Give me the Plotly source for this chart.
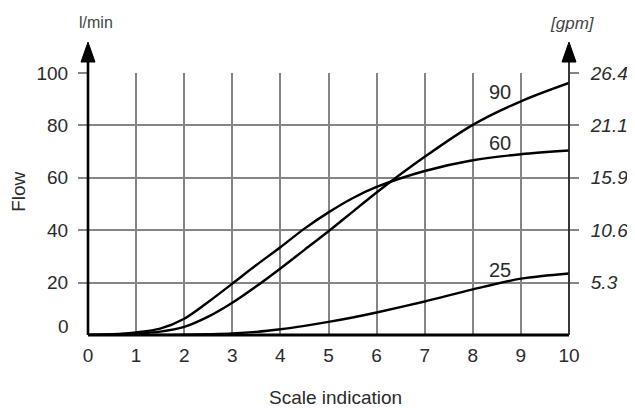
import plotly.graph_objects as go

scale = [0, 0.5, 1, 1.5, 2, 2.5, 3, 3.5, 4, 4.5, 5, 5.5, 6, 7, 8, 9, 10]
flow_90 = [0, 0.2, 0.6, 1.3, 3.1, 7.0, 12.3, 18.6, 25.4, 32.5, 39.6, 47.0, 54.4, 68.0, 80.2, 89.2, 96.2]
flow_60 = [0, 0.3, 1.0, 2.4, 6.2, 12.6, 19.6, 26.7, 33.5, 40.6, 46.8, 52.2, 56.5, 62.6, 66.7, 69.0, 70.4]
flow_25 = [0, 0, 0, 0, 0.1, 0.3, 0.6, 1.2, 2.2, 3.5, 5, 6.7, 8.6, 12.8, 17.4, 21.5, 23.5]
curve_labels = ["90", "60", "25"]
label_x = [8.57, 8.57, 8.57]
label_y = [92.6, 73.3, 25]
x_ticks = [0, 1, 2, 3, 4, 5, 6, 7, 8, 9, 10]
y_ticks = [20, 40, 60, 80, 100]
gpm_ticks = ["5.3", "10.6", "15.9", "21.1", "26.4"]

FONT = "Liberation Sans, Arial, sans-serif"
TXT = "#2b2b2b"
GRID = "#858585"

# page body has an 8px margin; plot area in screen px: x 88..569, y 73..335.5
PW, PH = 481, 262.5
L, T = 80, 65

fig = go.Figure()
for ys in (flow_90, flow_60, flow_25):
    fig.add_trace(go.Scatter(x=scale, y=ys, mode="lines",
                             line=dict(color="black", width=2.4, shape="spline", smoothing=0.9),
                             showlegend=False, hoverinfo="skip"))
fig.add_trace(go.Scatter(x=[0], y=[0], yaxis="y2", mode="markers",
                         marker=dict(opacity=0), showlegend=False, hoverinfo="skip"))

fig.update_layout(
    width=635, height=410,
    margin=dict(l=L, r=635 - L - PW, t=T, b=410 - T - PH),
    paper_bgcolor="white", plot_bgcolor="white",
    font=dict(family=FONT, color=TXT, size=19),
    xaxis=dict(range=[0, 10], tickvals=x_ticks, ticks="", showgrid=True,
               gridcolor=GRID, gridwidth=1.6, zeroline=False, showline=False,
               tickfont=dict(size=19, color=TXT), ticklabelstandoff=7),
    yaxis=dict(range=[0, 100], tickvals=y_ticks, ticks="outside", ticklen=9,
               tickcolor=GRID, tickwidth=1.6, showgrid=True, gridcolor=GRID, gridwidth=1.6,
               zeroline=False, showline=False, tickfont=dict(size=19, color=TXT),
               ticklabelstandoff=6),
    yaxis2=dict(range=[0, 100], overlaying="y", side="right", tickvals=y_ticks,
                ticktext=["<i>%s</i>" % t for t in gpm_ticks],
                ticks="outside", ticklen=9, tickcolor=GRID, tickwidth=1.6,
                showgrid=False, zeroline=False, showline=False,
                tickfont=dict(size=19, color=TXT), ticklabelstandoff=8),
)

for t, x, y in zip(curve_labels, label_x, label_y):
    fig.add_annotation(x=x, y=y, text=t, showarrow=False,
                       font=dict(size=20, color=TXT), xanchor="center", yanchor="middle")

px_y = 1 / PH
px_x = 1 / PW

def sx(px):  # screen x -> paper
    return (px - 88) * px_x

def sy(py):  # screen y -> paper
    return (335.5 - py) * px_y

fig.add_annotation(xref="paper", yref="paper", x=sx(71), y=sy(327), text="0", showarrow=False,
                   xanchor="right", yanchor="middle", font=dict(size=19, color=TXT))
fig.add_annotation(xref="paper", yref="paper", x=sx(19), y=sy(192), text="Flow", textangle=-90,
                   showarrow=False, xanchor="center", yanchor="middle", font=dict(size=19, color=TXT))
fig.add_annotation(xref="paper", yref="paper", x=sx(335), y=sy(398), text="Scale indication",
                   showarrow=False, xanchor="center", yanchor="middle", font=dict(size=19, color=TXT))
fig.add_annotation(xref="paper", yref="paper", x=sx(96), y=sy(22), text="l/min",
                   showarrow=False, xanchor="center", yanchor="middle", font=dict(size=16, color="#444"))
fig.add_annotation(xref="paper", yref="paper", x=sx(572), y=sy(23), text="<i>[gpm]</i>",
                   showarrow=False, xanchor="center", yanchor="middle", font=dict(size=17, color="#444"))

# axis lines and arrows
fig.add_shape(type="line", xref="paper", yref="paper", x0=0, x1=1, y0=0, y1=0,
              line=dict(color="black", width=3))
for xp, w, c in ((0, 2.6, "black"), (1, 1.8, "#222")):
    fig.add_shape(type="line", xref="paper", yref="paper", x0=xp, x1=xp, y0=0, y1=sy(60),
                  line=dict(color=c, width=w))
    fig.add_shape(type="path", xref="paper", yref="paper",
                  path="M {a},{b} L {c},{d} L {e},{b} Z".format(
                      a=xp - 7 * px_x, b=sy(62), c=xp, d=sy(42), e=xp + 7 * px_x),
                  fillcolor="black", line=dict(color="black", width=1))

fig.write_html("out.html")
